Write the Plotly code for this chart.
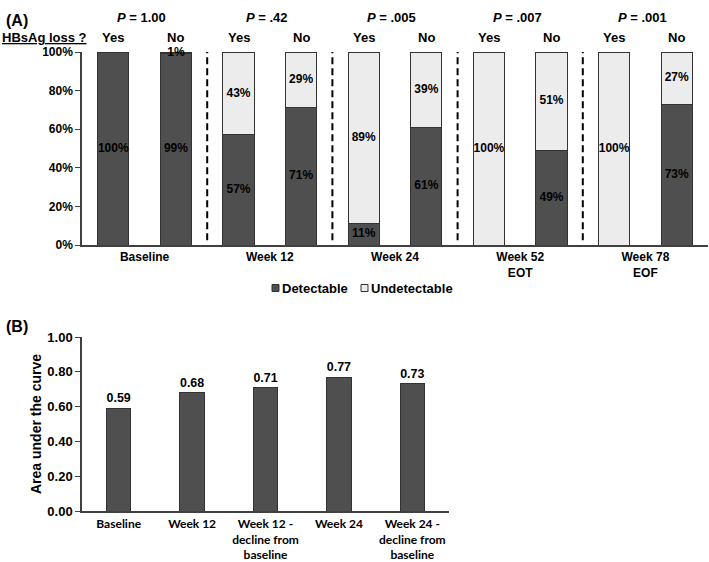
import plotly.graph_objects as go

# ---------------- data ----------------
groups = ["Baseline", "Week 12", "Week 24", "Week 52<br>EOT", "Week 78<br>EOF"]
p_values = ["1.00", ".42", ".005", ".007", ".001"]
loss_labels = ["Yes", "No"]
series_names = ["Detectable", "Undetectable"]
detectable = [100, 99, 57, 71, 11, 61, 0, 49, 0, 73]
undetectable = [0, 1, 43, 29, 89, 39, 100, 51, 100, 27]
pct_ticks = [0, 20, 40, 60, 80, 100]

auc_categories = ["Baseline", "Week 12", "Week 12 -<br>decline from<br>baseline",
                  "Week 24", "Week 24 -<br>decline from<br>baseline"]
auc_values = [0.59, 0.68, 0.71, 0.77, 0.73]

# ---------------- styling ----------------
W, H = 709, 562
ML, MR, MT, MB = 82, 1, 52, 51
PW, PH = W - ML - MR, H - MT - MB
DARK = "#4f4f4f"
LIGHT = "#ececec"
EDGE = "#333333"
ARIAL = "Liberation Sans, Arial, sans-serif"
CALIBRI = "Lato, Carlito, Calibri, sans-serif"


def px_x(px):
    return (px - ML) / PW


def px_y(py):
    return (H - MB - py) / PH


n = len(detectable)
xs = list(range(n))

fig = go.Figure()

fig.add_trace(go.Bar(
    x=xs, y=detectable, name=series_names[0], marker=dict(color=DARK, line=dict(color=EDGE, width=1)),
    width=0.5, xaxis="x", yaxis="y", hoverinfo="skip", showlegend=False))
fig.add_trace(go.Bar(
    x=xs, y=undetectable, name=series_names[1], marker=dict(color=LIGHT, line=dict(color=EDGE, width=1)),
    width=0.5, xaxis="x", yaxis="y", hoverinfo="skip", showlegend=False))

# labels inside segments
lx, ly, lt = [], [], []
for i in range(n):
    if detectable[i] > 0:
        lx.append(i); ly.append(detectable[i] / 2); lt.append(f"<b>{detectable[i]}%</b>")
    if undetectable[i] > 0:
        lx.append(i); ly.append(detectable[i] + undetectable[i] / 2); lt.append(f"<b>{undetectable[i]}%</b>")
fig.add_trace(go.Scatter(
    x=lx, y=ly, text=lt, mode="text", textfont=dict(family=ARIAL, size=12, color="black"),
    showlegend=False, cliponaxis=False, xaxis="x", yaxis="y", hoverinfo="skip"))

# panel B
fig.add_trace(go.Bar(
    x=auc_categories, y=auc_values, marker=dict(color=DARK, line=dict(color=EDGE, width=1)),
    width=0.33, text=[f"<b>{v:.2f}</b>" for v in auc_values], textposition="outside",
    textfont=dict(family=ARIAL, size=13, color="black"), cliponaxis=False,
    showlegend=False, xaxis="x2", yaxis="y2", hoverinfo="skip"))

# dashed separators
shapes = []
for g in range(1, len(groups)):
    shapes.append(dict(type="line", xref="x", yref="y", x0=2 * g - 0.5, x1=2 * g - 0.5,
                       y0=2.5, y1=103.5, line=dict(color="black", width=2, dash="7px,4px")))

annotations = []
for i in range(n):
    annotations.append(dict(x=i, y=px_y(28), xref="x", yref="paper", text=f"<b>{loss_labels[i % 2]}</b>",
                            showarrow=False, font=dict(family=ARIAL, size=13, color="black")))
for g, p in enumerate(p_values):
    annotations.append(dict(x=2 * g + 0.45, y=px_y(8), xref="x", yref="paper",
                            text=f"<b><i>P</i> = {p}</b>", showarrow=False,
                            font=dict(family=ARIAL, size=13, color="black")))
annotations.append(dict(x=px_x(0), y=px_y(28), xref="paper", yref="paper", xanchor="left",
                        text="<b><u>HBsAg loss ?</u></b>", showarrow=False,
                        font=dict(family=ARIAL, size=13, color="black")))
annotations.append(dict(x=px_x(4), y=px_y(10), xref="paper", yref="paper", xanchor="left",
                        text="<b>(A)</b>", showarrow=False, font=dict(family=ARIAL, size=16, color="black")))
annotations.append(dict(x=px_x(4), y=px_y(326), xref="paper", yref="paper", xanchor="left",
                        text="<b>(B)</b>", showarrow=False, font=dict(family=ARIAL, size=16, color="black")))

# compact legend (small swatches right next to the text)
legend_items = [(272, DARK, series_names[0]), (361, LIGHT, series_names[1])]
for lx0, col, name in legend_items:
    shapes.append(dict(type="rect", xref="paper", yref="paper", x0=px_x(lx0), x1=px_x(lx0 + 7),
                       y0=px_y(291.5), y1=px_y(284.5), fillcolor=col, line=dict(color=EDGE, width=1)))
    annotations.append(dict(x=px_x(lx0 + 8), y=px_y(288), xref="paper", yref="paper", xanchor="left",
                            yanchor="middle", text=f"<b>{name}</b>", showarrow=False,
                            font=dict(family=ARIAL, size=13, color="black")))

tickfont = dict(family=ARIAL, size=12, color="black", weight="bold")

fig.update_layout(
    width=W, height=H, margin=dict(l=ML, r=MR, t=MT, b=MB, autoexpand=False),
    plot_bgcolor="white", paper_bgcolor="white", barmode="stack", bargap=0.5,
    font=dict(family=ARIAL, color="black"), showlegend=False,
    shapes=shapes, annotations=annotations,
    xaxis=dict(domain=[0, 1], anchor="y", range=[-0.5, n - 0.5], tickvals=[2 * g + 0.5 for g in range(len(groups))],
               ticktext=groups, showline=True, linecolor="#404040", linewidth=1.5, ticks="",
               showgrid=False, zeroline=False, tickfont=tickfont, automargin=False),
    yaxis=dict(domain=[px_y(245), px_y(52)], anchor="x", range=[0, 100], tickmode="array",
               tickvals=pct_ticks, ticktext=[f"{v}%" for v in pct_ticks],
               showline=True, linecolor="#404040", linewidth=1.5, ticks="outside",
               ticklen=5, tickcolor="#404040", showgrid=False, zeroline=False, tickfont=tickfont,
               automargin=False),
    xaxis2=dict(domain=[0, px_x(449)], anchor="y2", type="category", showline=True, linecolor="#404040",
                linewidth=1.5, ticks="outside", ticklen=1, tickcolor="rgba(0,0,0,0)", showgrid=False,
                zeroline=False, tickfont=dict(family=CALIBRI, size=12, color="black", weight="bold"),
                automargin=False),
    yaxis2=dict(domain=[px_y(511), px_y(337)], anchor="x2", range=[0, 1], dtick=0.2, tickformat=".2f",
                showline=True, linecolor="#404040", linewidth=1.5, ticks="outside", ticklen=5,
                tickcolor="#404040", showgrid=False, zeroline=False,
                tickfont=dict(family=ARIAL, size=13, color="black", weight="bold"),
                title=dict(text="<b>Area under the curve</b>", font=dict(family=ARIAL, size=14, color="black"),
                           standoff=2),
                automargin=False),
)

fig.write_html("out.html", config={"displayModeBar": False},
               post_script="document.body.style.margin='0px';")
